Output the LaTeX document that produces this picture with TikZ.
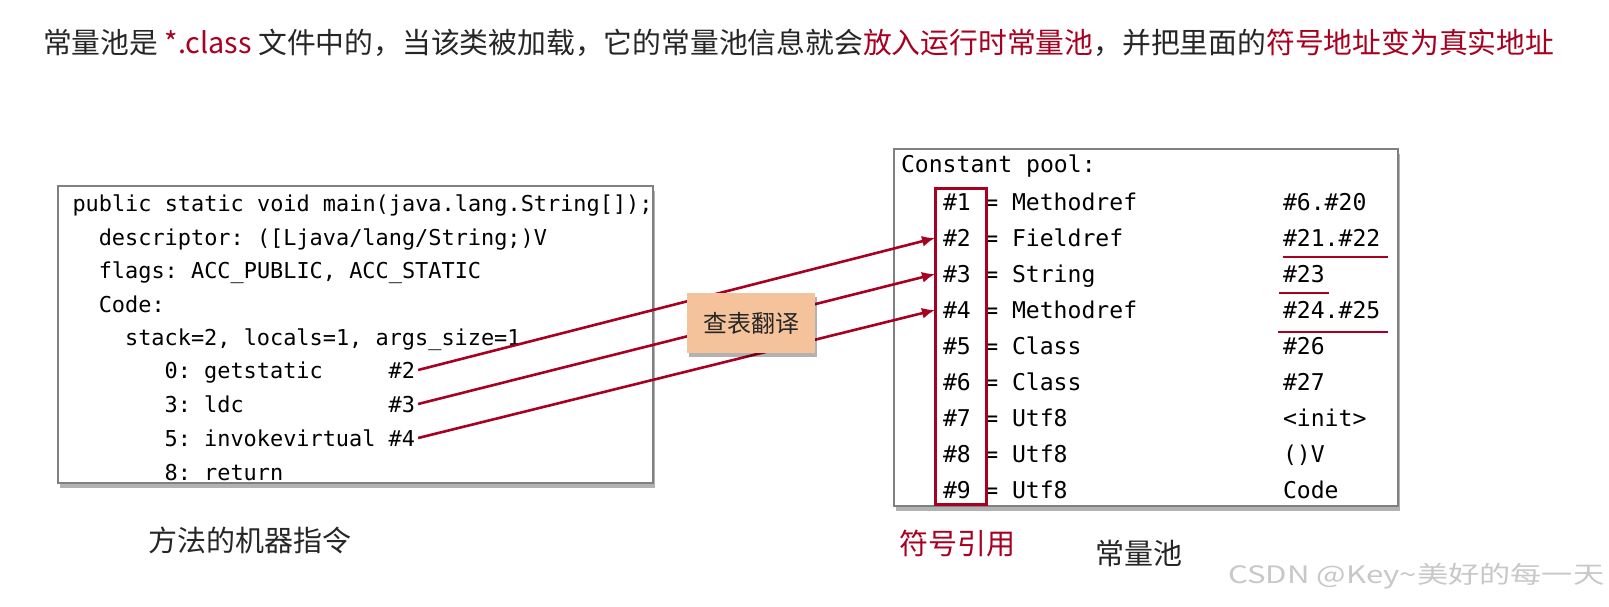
\documentclass[tikz,border=0pt]{standalone}
\usepackage{fontspec}
\setmainfont{Noto Sans CJK SC}
\newfontfamily\codefont{DejaVu Sans Mono}
\newfontfamily\wmfont[FakeStretch=1.3]{Noto Sans CJK SC}
\usetikzlibrary{arrows.meta,shadows}
\definecolor{dred}{RGB}{168,0,32}
\definecolor{tgray}{RGB}{38,38,38}
\definecolor{peach}{RGB}{244,195,155}
\definecolor{bgray}{RGB}{128,128,128}
\definecolor{wmgray}{RGB}{200,200,200}
\begin{document}
\begin{tikzpicture}[x=1pt,y=-1pt,
  every node/.style={inner sep=0pt, outer sep=0pt},
  panel/.style={draw=bgray, line width=1.5pt, fill=white,
    drop shadow={shadow xshift=2pt, shadow yshift=-5pt, opacity=0.3, fill=black}},
  lcode/.style={anchor=west, font=\codefont\fontsize{21.9}{26}\selectfont, text=black, text height=16pt, text depth=0pt},
  rcode/.style={anchor=west, font=\codefont\fontsize{23.1}{27}\selectfont, text=black, text height=17pt, text depth=0pt},
  biglabel/.style={font=\fontsize{29}{34}\selectfont, text=tgray},
  refarrow/.style={-{Latex[length=13pt,width=11pt]}, draw=dred, line width=2.6pt},
  uline/.style={draw=dred, line width=2.5pt},
  peachbox/.style={fill=peach, minimum width=128pt, minimum height=60pt,
    font=\fontsize{24}{28}\selectfont, text=tgray,
    drop shadow={shadow xshift=2pt, shadow yshift=-4pt, opacity=0.3, fill=black}}
]
\useasboundingbox (0,0) rectangle (1609,606);
\fill[white] (0,0) rectangle (1609,606);

% title
\node[biglabel, anchor=west, font=\fontsize{28.8}{34}\selectfont] (title) at (43,43)
  {常量池是 \textcolor{dred}{*.class} 文件中的，当该类被加载，它的常量池信息就会\textcolor{dred}{放入运行时常量池}，并把里面的\textcolor{dred}{符号地址变为真实地址}};

% left panel
\node[panel, minimum width=595pt, minimum height=297pt] (mbox) at (355.5,334.5) {};
\node[lcode] (l1) at (72.5,203) {public~static~void~main(java.lang.String[]);};
\node[lcode] (l2) at (98.8,237) {descriptor:~([Ljava/lang/String;)V};
\node[lcode] (l3) at (98.8,270) {flags:~ACC\_PUBLIC,~ACC\_STATIC};
\node[lcode] (l4) at (98.8,304) {Code:};
\node[lcode] (l5) at (125.1,337) {stack=2,~locals=1,~args\_size=1};
\node[lcode] (l6) at (164.6,370) {0:~getstatic~~~~~\#2};
\node[lcode] (l7) at (164.6,404) {3:~ldc~~~~~~~~~~~\#3};
\node[lcode] (l8) at (164.6,438) {5:~invokevirtual~\#4};
\node[lcode] (l9) at (164.6,472) {8:~return};

% right panel
\node[panel, minimum width=504pt, minimum height=357pt] (pool) at (1146,327.5) {};
\node[rcode] (cp) at (901,164) {Constant~pool:};
\foreach \i/\t/\v [evaluate=\i as \yy using 202+36*(\i-1)] in
  {1/Methodref/\#6.\#20, 2/Fieldref/\#21.\#22, 3/String/\#23, 4/Methodref/\#24.\#25,
   5/Class/\#26, 6/Class/\#27, 7/Utf8/<init>, 8/Utf8/()V, 9/Utf8/Code}{
  \node[rcode] (r\i) at (943,\yy) {\#\i};
  \node[rcode] (e\i) at (984.4,\yy) {=};
  \node[rcode] (t\i) at (1012,\yy) {\t};
  \node[rcode] (v\i) at (1283,\yy) {\v};
}
\draw[dred, line width=3pt] (935,188) rectangle (986,504);
\draw[uline] (1283,257) -- (1388,257);
\draw[uline] (1279,293) -- (1329,293);
\draw[uline] (1278,332) -- (1388,332);

% arrows
\draw[refarrow] ([xshift=3pt]l6.east) -- ([xshift=-8pt]r2.west);
\draw[refarrow] ([xshift=3pt]l7.east) -- ([xshift=-8pt]r3.west);
\draw[refarrow] ([xshift=3pt]l8.east) -- ([xshift=-8pt]r4.west);

\node[peachbox] (lookup) at (751,323) {查表翻译};

% labels
\node[biglabel] (lbl1) at (250,540) {方法的机器指令};
\node[biglabel, text=dred] (lbl2) at (957,543) {符号引用};
\node[biglabel] (lbl3) at (1139,553) {常量池};
\node[anchor=west, font=\wmfont\fontsize{24}{28}\selectfont, text=wmgray] (wm) at (1228,576) {CSDN @Key\textasciitilde 美好的每一天};
\end{tikzpicture}
\end{document}
